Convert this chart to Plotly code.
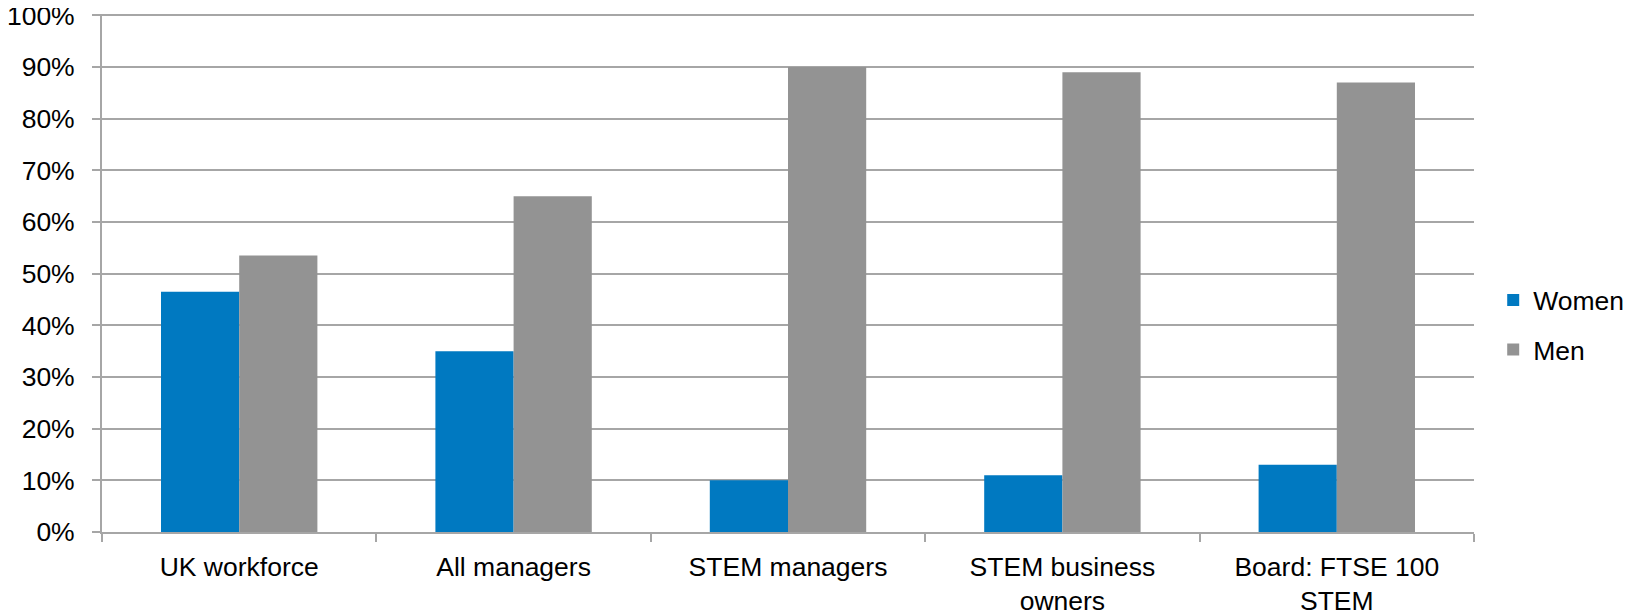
import plotly.graph_objects as go

categories = ["UK workforce", "All managers", "STEM managers",
              "STEM business<br>owners", "Board: FTSE 100<br>STEM"]
women = [46.5, 35.0, 10.0, 11.0, 13.0]
men = [53.5, 65.0, 90.0, 89.0, 87.0]
y_ticks = [0, 10, 20, 30, 40, 50, 60, 70, 80, 90, 100]
y_tick_labels = ["0%", "10%", "20%", "30%", "40%", "50%", "60%", "70%", "80%", "90%", "100%"]

FONT = "Liberation Sans, Arial, sans-serif"
GRID = "#A6A6A6"
FS = 26.5

fig = go.Figure()
fig.add_trace(go.Bar(name="Women", x=categories, y=women,
                     marker=dict(color="#0079C1", line=dict(width=0)),
                     legendgroup="w"))
fig.add_trace(go.Bar(name="Men", x=categories, y=men,
                     marker=dict(color="#939393", line=dict(width=0)),
                     legendgroup="m"))

# page body has an 8px margin: compensate
fig.update_layout(
    width=1635, height=611,
    margin=dict(l=94, r=169, t=6, b=87, autoexpand=False),
    paper_bgcolor="white", plot_bgcolor="white",
    barmode="group", bargap=0.43, bargroupgap=0,
    font=dict(family=FONT, size=FS, color="black"),
    legend=dict(x=1.014, xanchor="left", y=0.40, yanchor="middle",
                font=dict(size=FS), traceorder="grouped", tracegroupgap=12,
                bgcolor="rgba(0,0,0,0)"),
)
fig.update_xaxes(
    showgrid=False, showline=True, linecolor=GRID, linewidth=2,
    ticks="outside", tickson="boundaries", ticklen=8, tickcolor=GRID, tickwidth=2,
    tickfont=dict(size=FS, color="black"), automargin=False, ticklabelstandoff=10,
)
fig.update_yaxes(
    range=[0, 100.25], tickvals=y_ticks, ticktext=y_tick_labels,
    showgrid=True, gridcolor=GRID, gridwidth=2,
    showline=True, linecolor=GRID, linewidth=2,
    ticks="outside", ticklen=8, tickcolor=GRID, tickwidth=2,
    tickfont=dict(size=FS, color="black"), zeroline=False,
    automargin=False, ticklabelstandoff=12, ticklabeloverflow="allow",
)

fig.write_html("out.html")
